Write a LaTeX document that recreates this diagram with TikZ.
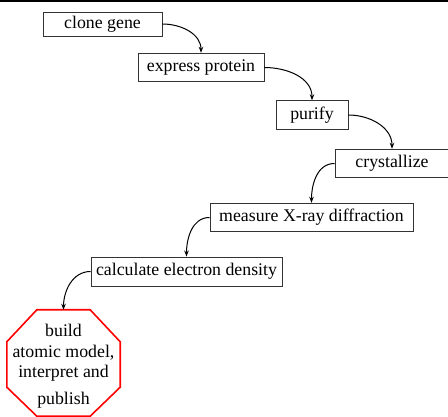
\documentclass[tikz,border=0pt]{standalone}
\usepackage{fontspec}
\setmainfont{Liberation Serif}
\usetikzlibrary{arrows.meta}
\begin{document}
\begin{tikzpicture}[x=1pt,y=-1pt,
  font=\fontsize{17.8}{20.5}\selectfont,
  box/.style={draw=black!80, line width=0.9pt, inner sep=0pt, minimum height=28.5pt},
  arr/.style={-{Stealth[length=6pt,width=4.5pt]}, line width=1pt}]
\useasboundingbox (0,0) rectangle (448,417);
\clip (0,0) rectangle (448,417);
\draw[line width=2pt] (0,1) -- (448,1);
\node[box, minimum width=119pt, minimum height=24pt] (clone) at (102.5,24) {clone gene};
\node[box, minimum width=126pt] (express) at (201,67.5) {express protein};
\node[box, minimum width=72pt] (purify) at (312,115) {purify};
\node[box, minimum width=114pt] (cryst) at (392,163.5) {crystallize};
\node[box, minimum width=203pt] (measure) at (311.5,217.5) {measure X-ray diffraction};
\node[box, minimum width=191pt, minimum height=29pt] (calc) at (186.5,271.5) {calculate electron density};
\node[inner sep=0pt, minimum width=113pt, minimum height=106pt] (oct) at (63.5,363) {};
\node[inner sep=0pt, align=center] (octtext) at ([yshift=-3pt]oct.center) {build\\atomic model,\\interpret and\\[6pt]publish};
\draw[red, line width=1.6pt]
  ([xshift=30pt]oct.north west) -- ([xshift=-30pt]oct.north east)
  -- ([yshift=-32pt]oct.north east) -- ([yshift=29pt]oct.south east)
  -- ([xshift=-30pt]oct.south east) -- ([xshift=30pt]oct.south west)
  -- ([yshift=29pt]oct.south west) -- ([yshift=-32pt]oct.north west) -- cycle;
\draw[arr] (clone.east) to[out=0,in=90] (express.north);
\draw[arr] (express.east) to[out=0,in=90] (purify.north);
\draw[arr] (purify.east) to[out=0,in=90] (cryst.north);
\draw[arr] (cryst.west) to[out=180,in=90] (measure.north);
\draw[arr] (measure.west) to[out=180,in=90] (calc.north);
\draw[arr] (calc.west) to[out=180,in=90] (oct.north);
\end{tikzpicture}
\end{document}
